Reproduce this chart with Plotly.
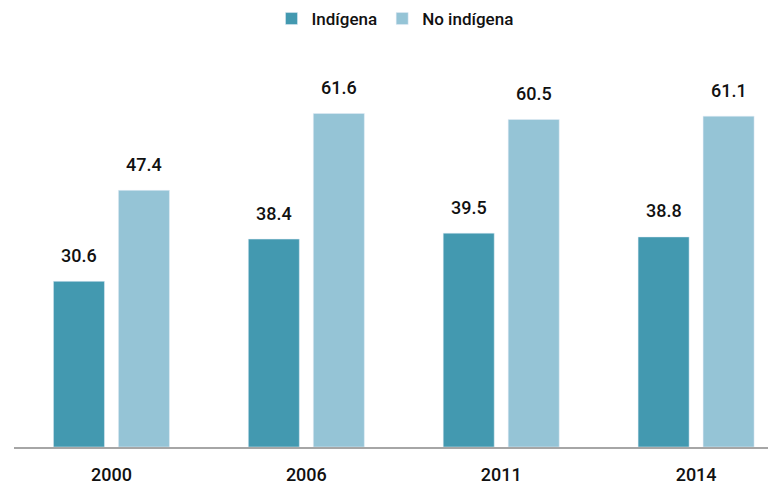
import plotly.graph_objects as go

years = ["2000", "2006", "2011", "2014"]
indigena = [30.6, 38.4, 39.5, 38.8]
no_indigena = [47.4, 61.6, 60.5, 61.1]

FONT = "Roboto, sans-serif"
C1 = "#4399b0"
C2 = "#95c4d6"

fig = go.Figure()
fig.add_trace(go.Bar(name="Indígena", x=years, y=indigena, marker_color=C1,
                     offsetgroup="a"))
fig.add_trace(go.Bar(name="No indígena", x=years, y=no_indigena, marker_color=C2,
                     offsetgroup="b"))

# value labels above the bars
for i, (yr, a, b) in enumerate(zip(years, indigena, no_indigena)):
    for off, v in ((-0.1667, a), (0.1667, b)):
        fig.add_annotation(x=i + off, y=v, text=f"{v:.1f}", showarrow=False,
                           yshift=26, xref="x", yref="y",
                           font=dict(family=FONT, size=18, color="#111111",
                                     weight=500))

fig.update_layout(
    width=776, height=488,
    margin=dict(l=6, r=8, t=60, b=49),
    paper_bgcolor="white", plot_bgcolor="white",
    barmode="group", bargap=0.333, bargroupgap=0.215,
    font=dict(family=FONT, color="#111111"),
    legend=dict(orientation="h", x=0.5, xanchor="center",
                y=1 - 11 / 488, yanchor="middle", yref="container",
                font=dict(family=FONT, size=17, weight=500),
                itemwidth=30, traceorder="normal"),
    showlegend=True,
)
fig.update_xaxes(type="category", range=[-0.5, 3.41], showline=True,
                 linecolor="#a6a6a6", linewidth=2, ticks="", showgrid=False,
                 tickfont=dict(family=FONT, size=18, color="#111111", weight=500),
                 ticklabelstandoff=10)
fig.update_yaxes(range=[0, 70], visible=False, showgrid=False, zeroline=False)

fig.write_html("out.html")
